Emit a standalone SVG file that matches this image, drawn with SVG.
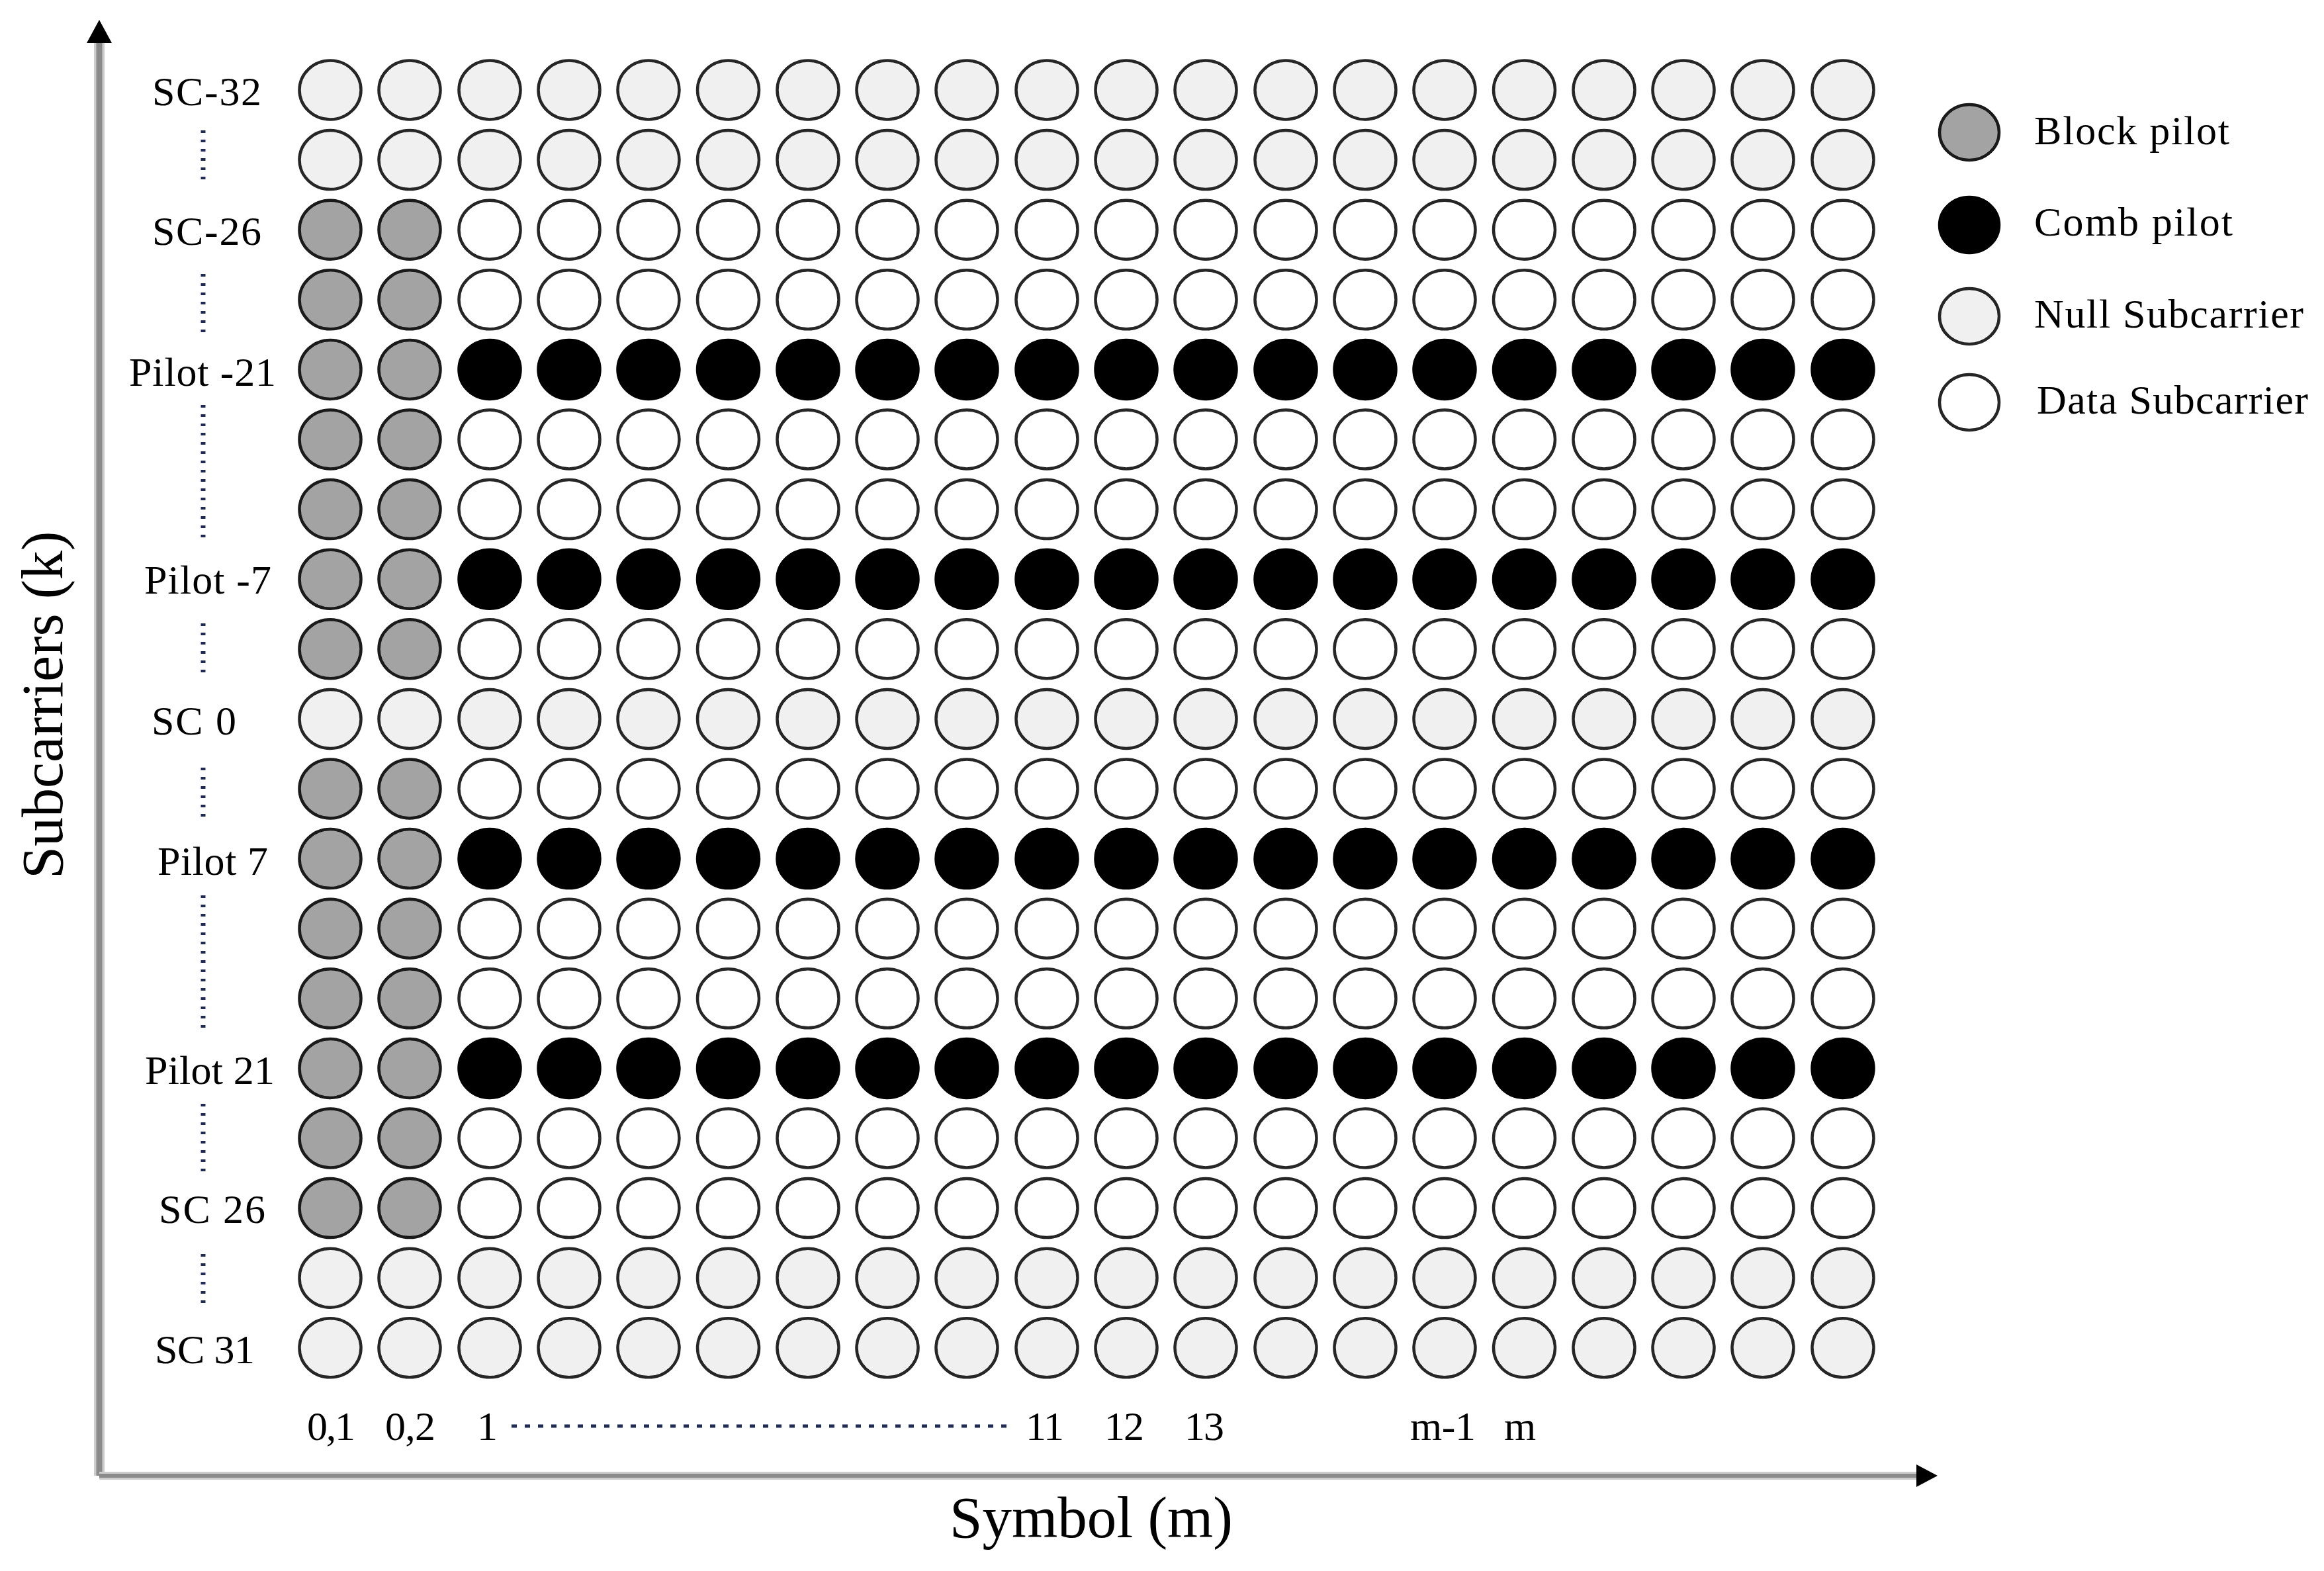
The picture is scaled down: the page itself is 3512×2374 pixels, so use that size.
<svg xmlns="http://www.w3.org/2000/svg" xmlns:xlink="http://www.w3.org/1999/xlink" width="3512" height="2374" viewBox="0 0 3512 2374">
<style>
.n{fill:#f0f0f0;stroke:#262626;stroke-width:4.5}
.d{fill:#ffffff;stroke:#262626;stroke-width:4.5}
.b{fill:#a3a3a3;stroke:#1a1a1a;stroke-width:4.5}
.k{fill:#000000;stroke:#000000;stroke-width:4.5}
text{font-family:"Liberation Serif","Times New Roman",serif;fill:#000}
.lab{font-size:62px}
.ttl{font-size:88px}
.vdot{stroke:#1d2b55;stroke-width:7;stroke-dasharray:4 10;fill:none}
.hdot{stroke:#1d2b55;stroke-width:5;stroke-dasharray:8 12;fill:none}
.axl{stroke:#cccccc;fill:none}
.axc{stroke:#8a8a8a;fill:none}
</style>
<defs>
<ellipse id="c" cx="0" cy="0" rx="46.5" ry="44.5"/>
<ellipse id="cl" cx="0" cy="0" rx="45" ry="42"/>
<g id="rowNull">
<use href="#c" x="499" class="n"/><use href="#c" x="619" class="n"/><use href="#c" x="740" class="n"/><use href="#c" x="860" class="n"/><use href="#c" x="980" class="n"/><use href="#c" x="1100.5" class="n"/><use href="#c" x="1221" class="n"/><use href="#c" x="1341" class="n"/><use href="#c" x="1461" class="n"/><use href="#c" x="1582" class="n"/><use href="#c" x="1702" class="n"/><use href="#c" x="1822" class="n"/><use href="#c" x="1943" class="n"/><use href="#c" x="2063" class="n"/><use href="#c" x="2183" class="n"/><use href="#c" x="2303.5" class="n"/><use href="#c" x="2424" class="n"/><use href="#c" x="2544" class="n"/><use href="#c" x="2664" class="n"/><use href="#c" x="2785" class="n"/>
</g>
<g id="rowData">
<use href="#c" x="499" class="b"/><use href="#c" x="619" class="b"/><use href="#c" x="740" class="d"/><use href="#c" x="860" class="d"/><use href="#c" x="980" class="d"/><use href="#c" x="1100.5" class="d"/><use href="#c" x="1221" class="d"/><use href="#c" x="1341" class="d"/><use href="#c" x="1461" class="d"/><use href="#c" x="1582" class="d"/><use href="#c" x="1702" class="d"/><use href="#c" x="1822" class="d"/><use href="#c" x="1943" class="d"/><use href="#c" x="2063" class="d"/><use href="#c" x="2183" class="d"/><use href="#c" x="2303.5" class="d"/><use href="#c" x="2424" class="d"/><use href="#c" x="2544" class="d"/><use href="#c" x="2664" class="d"/><use href="#c" x="2785" class="d"/>
</g>
<g id="rowComb">
<use href="#c" x="499" class="b"/><use href="#c" x="619" class="b"/><use href="#c" x="740" class="k"/><use href="#c" x="860" class="k"/><use href="#c" x="980" class="k"/><use href="#c" x="1100.5" class="k"/><use href="#c" x="1221" class="k"/><use href="#c" x="1341" class="k"/><use href="#c" x="1461" class="k"/><use href="#c" x="1582" class="k"/><use href="#c" x="1702" class="k"/><use href="#c" x="1822" class="k"/><use href="#c" x="1943" class="k"/><use href="#c" x="2063" class="k"/><use href="#c" x="2183" class="k"/><use href="#c" x="2303.5" class="k"/><use href="#c" x="2424" class="k"/><use href="#c" x="2544" class="k"/><use href="#c" x="2664" class="k"/><use href="#c" x="2785" class="k"/>
</g>
</defs>
<rect x="0" y="0" width="3512" height="2374" fill="#ffffff"/>

<g id="axes">
<line class="axl" x1="150" y1="2230" x2="150" y2="60" stroke-width="16"/>
<line class="axc" x1="150" y1="2230" x2="150" y2="60" stroke-width="9"/>
<line class="axl" x1="150" y1="2230" x2="2900" y2="2230" stroke-width="12"/>
<line class="axc" x1="150" y1="2230" x2="2900" y2="2230" stroke-width="6"/>
<polygon points="150,30 169,65 131,65" fill="#000"/>
<polygon points="2928,2230 2896,2213 2896,2247" fill="#000"/>
<text class="ttl" transform="translate(94,1328) rotate(-90)">Subcarriers (k)</text>
<text class="ttl" x="1435" y="2323" textLength="428" lengthAdjust="spacingAndGlyphs">Symbol (m)</text>
</g>

<g id="grid">
<use href="#rowNull" y="136"/>
<use href="#rowNull" y="241.6"/>
<use href="#rowData" y="347.2"/>
<use href="#rowData" y="452.8"/>
<use href="#rowComb" y="558.4"/>
<use href="#rowData" y="664"/>
<use href="#rowData" y="769.6"/>
<use href="#rowComb" y="875.2"/>
<use href="#rowData" y="980.8"/>
<use href="#rowNull" y="1086.4"/>
<use href="#rowData" y="1192"/>
<use href="#rowComb" y="1297.6"/>
<use href="#rowData" y="1403.2"/>
<use href="#rowData" y="1508.8"/>
<use href="#rowComb" y="1614.4"/>
<use href="#rowData" y="1720"/>
<use href="#rowData" y="1825.6"/>
<use href="#rowNull" y="1931.2"/>
<use href="#rowNull" y="2036.8"/>
</g>

<g id="row-labels" class="lab">
<text x="230" y="159" textLength="165" lengthAdjust="spacing">SC-32</text>
<text x="230" y="370" textLength="165" lengthAdjust="spacing">SC-26</text>
<text x="195" y="583" textLength="222" lengthAdjust="spacing">Pilot -21</text>
<text x="218" y="897" textLength="192" lengthAdjust="spacing">Pilot -7</text>
<text x="229" y="1110" textLength="128" lengthAdjust="spacing">SC 0</text>
<text x="238" y="1322" textLength="167" lengthAdjust="spacing">Pilot 7</text>
<text x="219" y="1638" textLength="196" lengthAdjust="spacing">Pilot 21</text>
<text x="240" y="1848" textLength="161" lengthAdjust="spacing">SC 26</text>
<text x="234" y="2060" textLength="151" lengthAdjust="spacing">SC 31</text>
</g>

<g id="dotted-lines">
<line class="vdot" x1="307" y1="197" x2="307" y2="279"/>
<line class="vdot" x1="307" y1="414" x2="307" y2="512"/>
<line class="vdot" x1="307" y1="612" x2="307" y2="820"/>
<line class="vdot" x1="307" y1="942" x2="307" y2="1024"/>
<line class="vdot" x1="307" y1="1160" x2="307" y2="1242"/>
<line class="vdot" x1="307" y1="1353" x2="307" y2="1561"/>
<line class="vdot" x1="307" y1="1668" x2="307" y2="1778"/>
<line class="vdot" x1="307" y1="1895" x2="307" y2="1977"/>
<line class="hdot" x1="773" y1="2155" x2="1528" y2="2155"/>
</g>

<g id="column-labels" class="lab">
<text x="464" y="2176" textLength="73" lengthAdjust="spacing">0,1</text>
<text x="582" y="2176" textLength="76" lengthAdjust="spacing">0,2</text>
<text x="721" y="2176">1</text>
<text x="1550" y="2176" textLength="58" lengthAdjust="spacing">11</text>
<text x="1669" y="2176" textLength="60" lengthAdjust="spacing">12</text>
<text x="1790" y="2176" textLength="60" lengthAdjust="spacing">13</text>
<text x="2131" y="2176" textLength="99" lengthAdjust="spacing">m-1</text>
<text x="2273" y="2176">m</text>
</g>

<g id="legend">
<g id="legend-block"><use href="#cl" x="2976" y="200" class="b"/><text class="lab" x="3074" y="218" textLength="295" lengthAdjust="spacing">Block pilot</text></g>
<g id="legend-comb"><use href="#cl" x="2976" y="340" class="k"/><text class="lab" x="3074" y="356" textLength="300" lengthAdjust="spacing">Comb pilot</text></g>
<g id="legend-null"><use href="#cl" x="2976" y="478" class="n"/><text class="lab" x="3074" y="495" textLength="407" lengthAdjust="spacing">Null Subcarrier</text></g>
<g id="legend-data"><use href="#cl" x="2976" y="608" class="d"/><text class="lab" x="3078" y="625" textLength="410" lengthAdjust="spacing">Data Subcarrier</text></g>
</g>
</svg>
